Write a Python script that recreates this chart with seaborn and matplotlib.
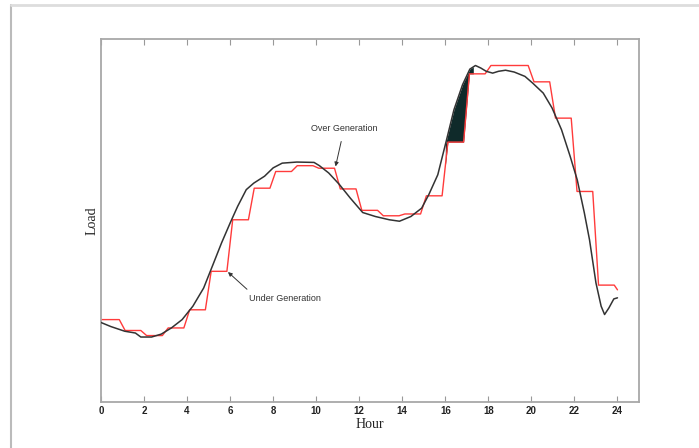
import matplotlib.pyplot as plt
import matplotlib.lines as mlines
import numpy as np
import pandas as pd
import seaborn as sns

# hourly generation levels (red steps), arbitrary load units
gen_hours = np.arange(24)
gen_levels = [22.7, 19.7, 18.3, 20.4, 25.4, 36.0, 50.2, 58.9, 63.5, 65.1, 64.4, 58.7,
              52.8, 51.3, 51.8, 56.8, 71.6, 90.4, 92.7, 92.7, 88.2, 78.2, 58.0, 32.2]
gen_end = 30.9

# actual load curve (black)
load_hour = [0.0, 0.45, 1.1, 1.6, 1.85, 2.35, 2.8, 3.27, 3.77, 4.27, 4.77, 5.2, 5.6, 6.0,
             6.35, 6.75, 7.1, 7.6, 8.0, 8.42, 9.1, 9.9, 10.15, 10.58, 11.08, 11.58, 12.16,
             12.75, 13.4, 13.87, 14.4, 14.9, 15.23, 15.65, 16.06, 16.4, 16.8, 17.14, 17.4,
             17.65, 17.9, 18.2, 18.47, 18.8, 19.2, 19.7, 20.05, 20.55, 20.96, 21.4, 21.8,
             22.13, 22.46, 22.7, 23.0, 23.24, 23.4, 23.6, 23.83, 24.0]
load_value = [21.9, 20.8, 19.5, 19.0, 17.9, 17.9, 18.7, 20.4, 22.7, 26.4, 31.4, 37.8, 43.8,
              49.3, 53.9, 58.5, 60.3, 62.2, 64.5, 65.8, 66.1, 66.0, 65.1, 63.1, 59.9, 56.2,
              52.2, 51.1, 50.2, 49.8, 51.1, 53.4, 57.1, 62.6, 72.3, 80.5, 87.4, 91.7, 92.7,
              92.0, 91.1, 90.6, 91.1, 91.4, 90.9, 89.7, 87.9, 85.1, 81.0, 75.0, 67.7, 61.2,
              52.1, 44.7, 32.8, 26.4, 24.1, 25.9, 28.4, 28.7]

# step line with short ramps between the hourly levels
step_x = [0.0]
step_y = [gen_levels[0]]
for h, v in zip(gen_hours, gen_levels):
    step_x += [h + 0.12, h + 0.85]
    step_y += [v, v]
step_x[1] = 0.0
step_x.append(24.0)
step_y.append(gen_end)

gen_df = pd.DataFrame({'hour': step_x, 'load': step_y})
load_df = pd.DataFrame({'hour': load_hour, 'load': load_value})

sns.set_style('white')
fig = plt.figure(figsize=(6.99, 4.48), dpi=100)
ax = fig.add_axes([101 / 699, 1 - 402 / 448, (639 - 101) / 699, (402 - 39) / 448])

# shaded gap where load rises above generation
grid = np.linspace(16.0, 17.3, 300)
blk = np.interp(grid, load_hour, load_value)
red = np.interp(grid, step_x, step_y)
ax.fill_between(grid, red, blk, where=blk > red, color='#0f2a2a', lw=0, zorder=1)

sns.lineplot(data=gen_df, x='hour', y='load', sort=False, estimator=None,
             color='#ff3b3b', lw=1.0, ax=ax, zorder=2)
sns.lineplot(data=load_df, x='hour', y='load', sort=False, estimator=None,
             color='#333333', lw=1.1, ax=ax, zorder=3)

ax.annotate('Over Generation', xy=(10.9, 64.9), xytext=(11.3, 75.4), ha='center', va='center',
            fontsize=6.5, family='Liberation Sans', color='#333333',
            arrowprops=dict(arrowstyle='-|>', color='#333333', lw=0.7, mutation_scale=6,
                            shrinkA=4, shrinkB=0))
ax.annotate('Under Generation', xy=(5.9, 35.8), xytext=(8.55, 28.4), ha='center', va='center',
            fontsize=6.5, family='Liberation Sans', color='#333333',
            arrowprops=dict(arrowstyle='-|>', color='#333333', lw=0.7, mutation_scale=6,
                            shrinkA=2, shrinkB=0, relpos=(0.05, 1.0)))

ax.set_xlim(0, 25)
ax.set_ylim(0, 100)
ax.set_xticks(range(0, 25, 2))
ax.set_yticks([])
ax.tick_params(axis='x', direction='in', length=4, width=0.8, color='#999999',
               top=True, bottom=True, pad=3, labelsize=7, labelcolor='#222222')
for lab in ax.get_xticklabels():
    lab.set_family('Liberation Sans')
    lab.set_fontweight('bold')
for sp in ax.spines.values():
    sp.set_color('#a8a8a8')
    sp.set_linewidth(1.3)
ax.set_xlabel('Hour', family='Liberation Serif', fontsize=10, color='#222222', labelpad=1)
ax.set_ylabel('Load', family='Liberation Serif', fontsize=10, color='#222222', labelpad=2)

# outer frame lines of the page
fig.add_artist(mlines.Line2D([11 / 699, 11 / 699], [0, 1 - 5 / 448], color='#bbbbbb', lw=1.5))
fig.add_artist(mlines.Line2D([11 / 699, 1], [1 - 5 / 448, 1 - 5 / 448], color='#dddddd', lw=2))

fig.savefig('out.png', dpi=100)
